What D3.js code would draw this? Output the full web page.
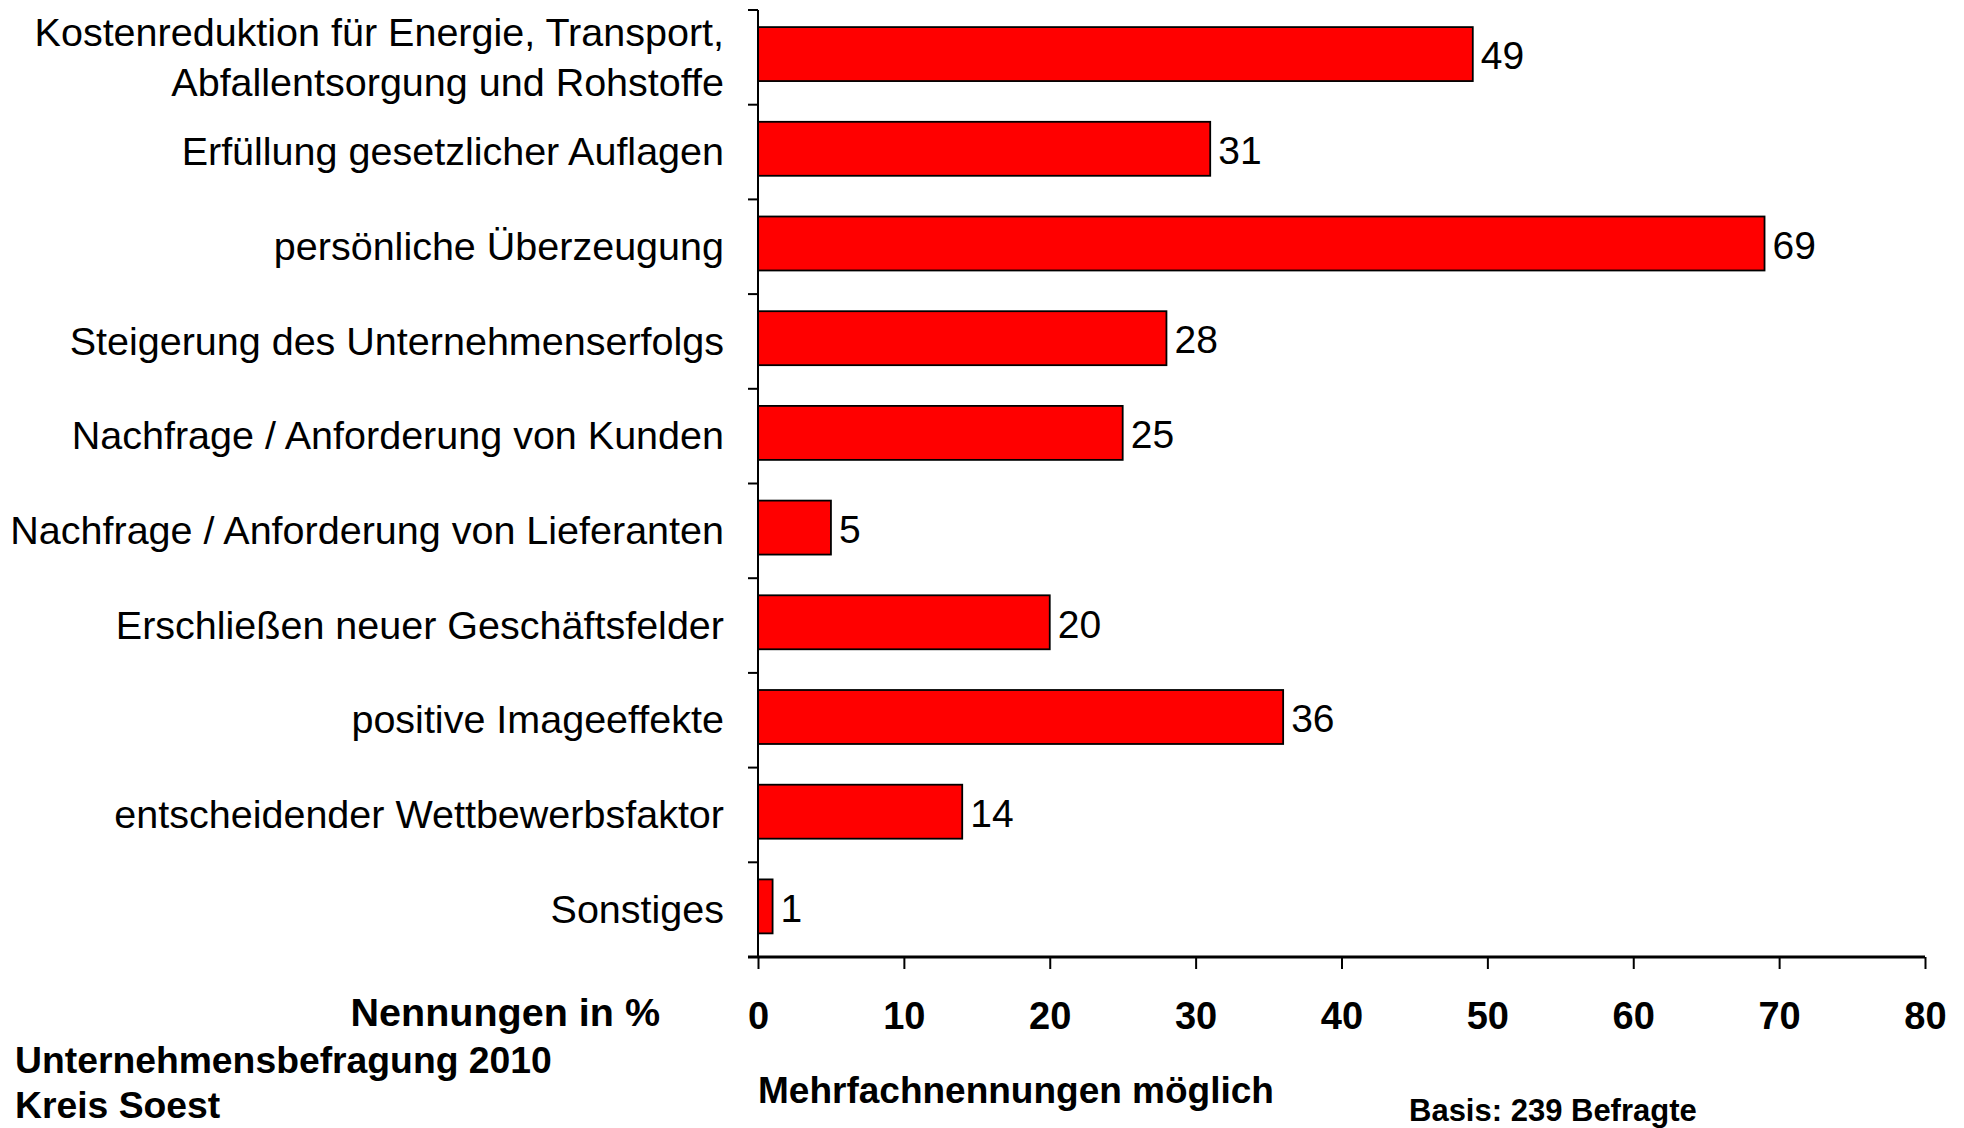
<!DOCTYPE html>
<html>
<head>
  <meta charset="utf-8">
  <script src="https://d3js.org/d3.v7.min.js"></script>
  <style>
    body { margin: 0; background: #fff; }
    text { font-family: "Liberation Sans", Arial, sans-serif; fill: #000; }
    .bold { font-weight: bold; }
  </style>
</head>
<body>
  <svg width="1964" height="1128"></svg>
  <script>
    const categories = [
      ["Kostenreduktion für Energie, Transport,", "Abfallentsorgung und Rohstoffe"],
      ["Erfüllung gesetzlicher Auflagen"],
      ["persönliche Überzeugung"],
      ["Steigerung des Unternehmenserfolgs"],
      ["Nachfrage / Anforderung von Kunden"],
      ["Nachfrage / Anforderung von Lieferanten"],
      ["Erschließen neuer Geschäftsfelder"],
      ["positive Imageeffekte"],
      ["entscheidender Wettbewerbsfaktor"],
      ["Sonstiges"]
    ]
    const values = [49, 31, 69, 28, 25, 5, 20, 36, 14, 1]
    const xTicks = [0, 10, 20, 30, 40, 50, 60, 70, 80]

    const svg = d3.select("svg")
    const m = { left: 758, right: 1925, top: 10, bottom: 957 }

    const x = d3.scaleLinear().domain([0, 80]).range([m.left, m.right])
    const y = d3.scaleBand().domain(d3.range(categories.length)).range([m.top, m.bottom])
      .paddingInner(0.43).paddingOuter(0.215).align(0.42)
    const yb = d3.scaleBand().domain(d3.range(categories.length)).range([m.top, m.bottom])

    // bars
    svg.append("g")
      .selectAll("rect")
      .data(values)
      .enter().append("rect")
      .attr("x", x(0))
      .attr("y", (d, i) => y(i))
      .attr("width", d => x(d) - x(0))
      .attr("height", y.bandwidth())
      .attr("fill", "#ff0000")
      .attr("stroke", "#000")
      .attr("stroke-width", 1.8)

    // value labels
    svg.append("g")
      .selectAll("text")
      .data(values)
      .enter().append("text")
      .attr("x", d => x(d) + 8)
      .attr("y", (d, i) => yb(i) + yb.bandwidth() / 2 - 2)
      .attr("dy", "0.36em")
      .attr("font-size", 39)
      .text(d => d)

    // y axis: line + ticks on band boundaries
    const yAxis = svg.append("g")
    yAxis.append("line")
      .attr("x1", m.left).attr("x2", m.left)
      .attr("y1", m.top).attr("y2", m.bottom)
      .attr("stroke", "#000").attr("stroke-width", 2)
    yAxis.selectAll(".tick")
      .data(d3.range(categories.length + 1))
      .enter().append("line")
      .attr("x1", m.left - 10).attr("x2", m.left)
      .attr("y1", i => m.top + i * yb.step())
      .attr("y2", i => m.top + i * yb.step())
      .attr("stroke", "#000").attr("stroke-width", 2)

    // category labels
    const lab = svg.append("g")
      .selectAll("text")
      .data(categories)
      .enter().append("text")
      .attr("x", 724)
      .attr("text-anchor", "end")
      .attr("font-size", 39.5)
      .attr("y", (d, i) => yb(i) + yb.bandwidth() / 2 - 1 - (d.length - 1) * 25)
    lab.selectAll("tspan")
      .data(d => d)
      .enter().append("tspan")
      .attr("x", 724)
      .attr("dy", (d, j) => j === 0 ? "0.36em" : 50)
      .text(d => d)

    // x axis
    const xAxis = svg.append("g")
      .attr("transform", `translate(0,${m.bottom})`)
      .call(d3.axisBottom(x).tickValues(xTicks).tickSize(12).tickPadding(33))
    xAxis.select(".domain").attr("stroke-width", 3).attr("d", `M${m.left - 10},0H${m.right}`)
    xAxis.selectAll(".tick line").attr("stroke-width", 2)
    xAxis.selectAll(".tick text")
      .attr("class", "bold")
      .attr("font-size", 38)
      .attr("font-family", "Liberation Sans, Arial, sans-serif")
      .attr("fill", "#000")

    // annotations
    const note = (t, xx, yy, size, anchor) => svg.append("text")
      .attr("class", "bold")
      .attr("x", xx).attr("y", yy)
      .attr("dy", "0.36em")
      .attr("font-size", size)
      .attr("text-anchor", anchor || "start")
      .text(t)

    note("Nennungen in %", 660, 1012, 39.5, "end")
    note("Unternehmensbefragung 2010", 15, 1060, 37.3)
    note("Kreis Soest", 15, 1105, 37.3)
    note("Mehrfachnennungen möglich", 758, 1090, 37)
    note("Basis: 239 Befragte", 1409, 1110, 31)
  </script>
</body>
</html>
